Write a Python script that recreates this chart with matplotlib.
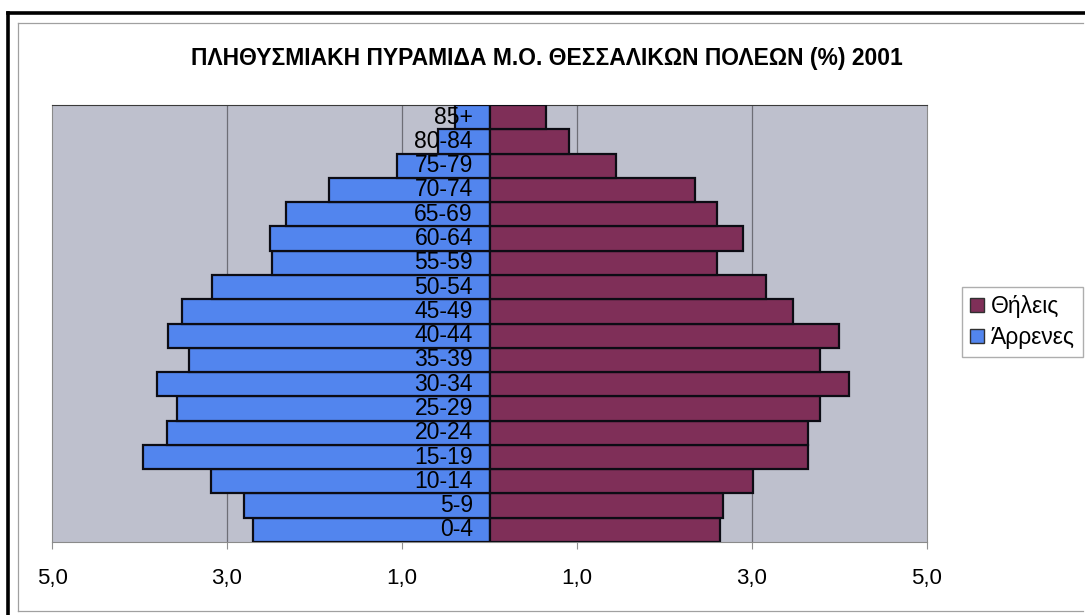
import numpy as np
import matplotlib
matplotlib.use("Agg")
import matplotlib.pyplot as plt
from matplotlib.patches import Patch
from matplotlib.lines import Line2D

plt.rcParams['font.family'] = ['Liberation Sans', 'DejaVu Sans']

# age groups, youngest first
ages = ["0-4", "5-9", "10-14", "15-19", "20-24", "25-29", "30-34", "35-39", "40-44",
        "45-49", "50-54", "55-59", "60-64", "65-69", "70-74", "75-79", "80-84", "85+"]
# share of population (%)
males = [2.70, 2.81, 3.18, 3.96, 3.69, 3.57, 3.80, 3.43, 3.68,
         3.52, 3.17, 2.49, 2.51, 2.33, 1.84, 1.06, 0.59, 0.39]
females = [2.63, 2.67, 3.01, 3.64, 3.64, 3.78, 4.11, 3.78, 3.99,
           3.47, 3.16, 2.60, 2.90, 2.60, 2.35, 1.45, 0.91, 0.65]
xticks = [-5, -3, -1, 1, 3, 5]
xticklabels = ["5,0", "3,0", "1,0", "1,0", "3,0", "5,0"]

W, H = 1085, 615
fig = plt.figure(figsize=(W / 100, H / 100), dpi=100)
fig.patch.set_facecolor("white")

ax = fig.add_axes([52 / W, 1 - 542 / H, 875 / W, 437 / H])
ax.set_facecolor("#bec0cd")

y = np.arange(len(ages))
ax.barh(y, -np.array(males), height=1.0, color="#5285ee", edgecolor="#0c0c14",
        linewidth=1.6, zorder=3, label="Άρρενες")
ax.barh(y, females, height=1.0, color="#7f2f58", edgecolor="#0c0c14",
        linewidth=1.6, zorder=3, label="Θήλεις")

for yi, lab in zip(y, ages):
    ax.text(-0.19, yi, lab, ha="right", va="center", fontsize=16.5,
            color="black", zorder=5)

ax.set_xlim(-5, 5)
ax.set_ylim(-0.5, len(ages) - 0.5)
ax.set_xticks(xticks)
ax.set_xticklabels(xticklabels, fontsize=16)
ax.set_yticks([])
ax.tick_params(axis="x", length=5, color="#909090", pad=14)
for gx in [-3, -1, 1, 3]:
    ax.axvline(gx, color="#6e6e76", linewidth=0.9, zorder=1)
for side in ["left", "right", "bottom"]:
    ax.spines[side].set_color("#8a8a8a")
ax.spines["top"].set_color("#3a3a3a")

fig.text(547 / W, 1 - 58 / H, "ΠΛΗΘΥΣΜΙΑΚΗ ΠΥΡΑΜΙΔΑ Μ.Ο. ΘΕΣΣΑΛΙΚΩΝ ΠΟΛΕΩΝ (%) 2001",
         ha="center", va="center", fontsize=16.5, fontweight="bold")

handles = [Patch(facecolor="#7f2f58", edgecolor="#303030", label="Θήλεις"),
           Patch(facecolor="#5285ee", edgecolor="#303030", label="Άρρενες")]
leg = fig.legend(handles=handles, loc="upper left",
                 bbox_to_anchor=(962 / W, 1 - 287 / H), fontsize=16.5,
                 frameon=True, fancybox=False, borderpad=0.35,
                 handlelength=0.6, handleheight=0.6, handletextpad=0.3,
                 labelspacing=0.35, borderaxespad=0)
leg.get_frame().set_edgecolor("#9a9a9a")
leg.get_frame().set_linewidth(1.0)

# outer chart frame
def px_line(x0, y0, x1, y1, **kw):
    fig.add_artist(Line2D([x0 / W, x1 / W], [1 - y0 / H, 1 - y1 / H],
                          transform=fig.transFigure, **kw))

px_line(7.5, 12.5, 7.5, H, color="black", linewidth=2.6)
px_line(7.5, 12.5, W, 12.5, color="black", linewidth=2.6)
px_line(17.5, 22.5, 1083, 22.5, color="#a0a0a0", linewidth=0.9)
px_line(17.5, 22.5, 17.5, 611, color="#a0a0a0", linewidth=0.9)
px_line(17.5, 611, 1083, 611, color="#a0a0a0", linewidth=0.9)

fig.savefig("out.png", dpi=100)
